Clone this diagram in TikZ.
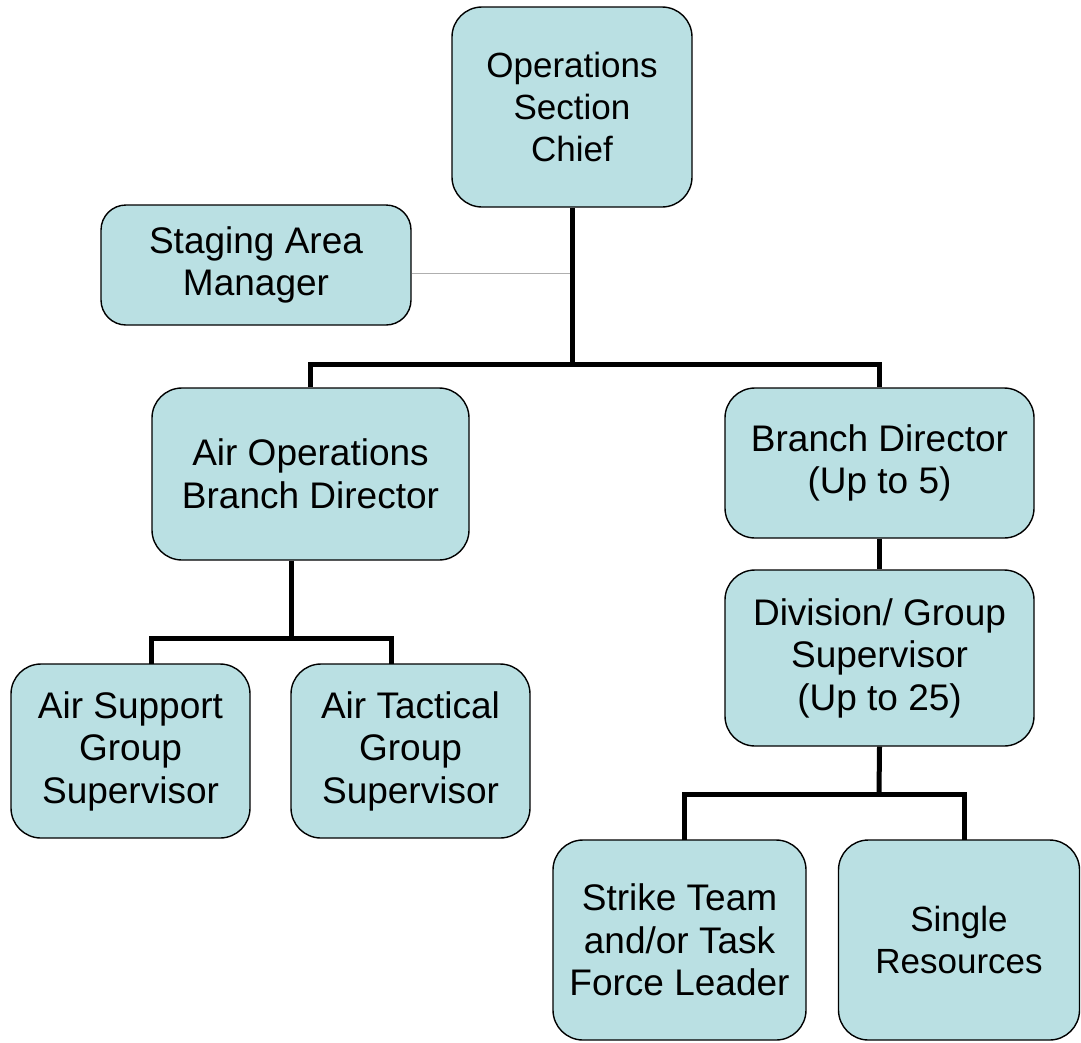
\documentclass[tikz,border=0pt]{standalone}
\usepackage{fontspec}
\setmainfont{Liberation Sans}
\definecolor{boxfill}{RGB}{186,224,227}
\definecolor{thingray}{RGB}{175,175,175}
\begin{document}
\begin{tikzpicture}[x=1pt,y=-1pt,
  orgbox/.style={draw=black, line width=1.4pt, fill=boxfill, rounded corners=30pt,
    inner sep=0pt, align=center, font=\fontsize{37}{42.5}\selectfont},
  smalltext/.style={font=\fontsize{35}{42}\selectfont},
  conn/.style={line width=5pt, draw=black},
  thinconn/.style={line width=1pt, draw=thingray}]
\useasboundingbox (0,0) rectangle (1081,1042);

% boxes
\node[orgbox, smalltext, minimum width=240pt, minimum height=200pt] (osc) at (572,107) {Operations\\Section\\Chief};
\node[orgbox, minimum width=310pt, minimum height=120pt, rounded corners=25pt] (sam) at (256,265) {Staging Area\\Manager};
\node[orgbox, minimum width=317pt, minimum height=172pt] (aob) at (310.5,474) {Air Operations\\Branch Director};
\node[orgbox, minimum width=309pt, minimum height=150pt] (bd) at (879.5,463) {Branch Director\\(Up to 5)};
\node[orgbox, minimum width=309pt, minimum height=176pt] (dgs) at (879.5,658) {Division/ Group\\Supervisor\\(Up to 25)};
\node[orgbox, minimum width=239pt, minimum height=174pt] (asg) at (130.5,751) {Air Support\\Group\\Supervisor};
\node[orgbox, minimum width=239pt, minimum height=174pt] (atg) at (410.5,751) {Air Tactical\\Group\\Supervisor};
\node[orgbox, minimum width=253pt, minimum height=200pt] (stl) at (679.5,940) {Strike Team\\and/or Task\\Force Leader};
\node[orgbox, smalltext, minimum width=241pt, minimum height=200pt] (sr) at (959,940) {Single\\Resources};

% junction points
\coordinate (bus) at (572,364);
\coordinate (airbus) at (291,638);
\coordinate (asgdrop) at (151,664);
\coordinate (atgdrop) at (391,664);
\coordinate (divbus) at (879,794);
\coordinate (stldrop) at (684,840);
\coordinate (srdrop) at (964,840);

% connectors
\draw[thinconn] (sam.east |- 0,273) -- (572,273);
\draw[conn] (osc.south) -- (bus);
\draw[conn] (aob.north) |- (bus) -| (bd.north);
\draw[conn] (bd.south) -- (dgs.north);
\draw[conn] (aob.south -| airbus) -- (airbus);
\draw[conn] (asgdrop) |- (airbus) -| (atgdrop);
\draw[conn] (dgs.south) -- (divbus);
\draw[conn] (stldrop) |- (divbus) -| (srdrop);
\end{tikzpicture}
\end{document}
